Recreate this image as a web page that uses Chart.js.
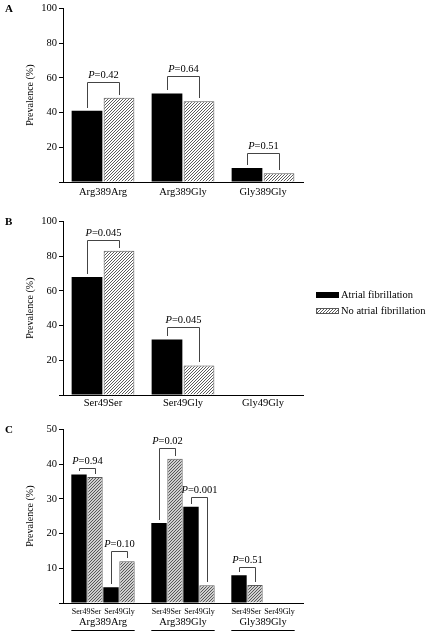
<!DOCTYPE html>
<html><head><meta charset="utf-8">
<script src="https://cdn.jsdelivr.net/npm/chart.js@4"></script>
<style>
html,body{margin:0;padding:0;background:#fff;width:430px;height:635px;overflow:hidden;}
.panel{position:absolute;left:0;width:430px;}
</style></head><body>
<div class="panel" style="top:0;height:213px"><canvas id="cA"></canvas></div>
<div class="panel" style="top:213px;height:208px"><canvas id="cB"></canvas></div>
<div class="panel" style="top:421px;height:214px"><canvas id="cC"></canvas></div>
<script>
// ---- Data ----
const seriesLabels = ['Atrial fibrillation', 'No atrial fibrillation'];
const axisTitle = 'Prevalence (%)';

// Panel A: Arg389Gly
const genotypes389 = ['Arg389Arg', 'Arg389Gly', 'Gly389Gly'];
const af389 = [41, 51, 8];
const noAf389 = [48.5, 46.5, 5];
const p389 = ['0.42', '0.64', '0.51'];
const bracket389 = [57.7, 61, 16.5];

// Panel B: Ser49Gly
const genotypes49 = ['Ser49Ser', 'Ser49Gly', 'Gly49Gly'];
const af49 = [68, 32, 0];
const noAf49 = [83, 17, 0];
const p49 = ['0.045', '0.045', null];
const bracket49 = [89.5, 39, null];

// Panel C: combined
const groups389 = ['Arg389Arg', 'Arg389Gly', 'Gly389Gly'];
const subgroups49 = ['Ser49Ser', 'Ser49Gly'];
const afSer49Ser = [37, 23, 8];
const noAfSer49Ser = [36.3, 41.5, 5.2];
const afSer49Gly = [4.5, 27.7, 0];
const noAfSer49Gly = [12, 5.1, 0];
const pSer49Ser = ['0.94', '0.02', '0.51'];
const bracketSer49Ser = [39, 44.5, 10.5];
const pSer49Gly = ['0.10', '0.001', null];
const bracketSer49Gly = [15, 30.5, null];

const yTicksAB = {max: 100, step: 20};
const yTicksC = {max: 50, step: 10};

// ---- Styling helpers ----
const FAM = "'Liberation Serif', 'Times New Roman', serif";
Chart.defaults.font.family = FAM;
Chart.defaults.font.size = 10.5;
Chart.defaults.color = '#000';

function makeHatch(size, color, lw, bg) {
  const c = document.createElement('canvas');
  c.width = c.height = size;
  const g = c.getContext('2d');
  g.fillStyle = bg; g.fillRect(0, 0, size, size);
  g.strokeStyle = color; g.lineWidth = lw;
  g.beginPath();
  g.moveTo(0, size); g.lineTo(size, 0);
  g.moveTo(-1, 1); g.lineTo(1, -1);
  g.moveTo(size - 1, size + 1); g.lineTo(size + 1, size - 1);
  g.stroke();
  return g.createPattern(c, 'repeat');
}
const hatchAB = makeHatch(3, '#4a4a4a', 0.9, '#ffffff');
const hatchC = makeHatch(3, '#4a4a4a', 0.9, '#cfcfcf');

function yScale(t) {
  return {
    min: 0, max: t.max,
    ticks: {stepSize: t.step, padding: 2, color: '#000', font: {size: 10.5},
      callback: v => v === 0 ? '' : v},
    grid: {display: true, drawOnChartArea: false, drawTicks: true, tickLength: 4, color: '#000', lineWidth: 1},
    border: {display: true, color: '#000', width: 1},
    title: {display: true, text: axisTitle, color: '#000', font: {size: 10}, padding: {top: 24, bottom: 0}},
    afterFit: s => { s.width = 63; }
  };
}
function xScale(pad, h) {
  return {
    offset: true,
    grid: {display: false, drawTicks: false},
    border: {display: true, color: '#000', width: 1},
    ticks: {padding: pad, color: '#000', font: {size: 10.5}, maxRotation: 0, autoSkip: false},
    afterFit: s => { s.height = h; }
  };
}

const bw = ctx => (ctx.raw > 0 ? 1 : 0);
function blackSet(label, data) {
  return {label, data, backgroundColor: '#000', borderColor: '#000', borderWidth: 0,
    categoryPercentage: 0.8, barPercentage: 0.96};
}
function hatchSet(label, data, pat) {
  return {label, data, backgroundColor: pat, borderColor: '#5a5a5a', borderWidth: bw,
    categoryPercentage: 0.8, barPercentage: 0.96};
}

// ---- Plugins ----
const bracketPlugin = {
  id: 'brackets',
  afterDatasetsDraw(chart, args, opts) {
    const {ctx} = chart; const y = chart.scales.y;
    (opts.items || []).forEach(it => {
      if (it.level == null) return;
      const ma = chart.getDatasetMeta(it.a).data[it.i];
      const mb = chart.getDatasetMeta(it.b).data[it.i];
      const yl = Math.round(y.getPixelForValue(it.level)) + 0.5;
      const xa = Math.round(ma.x) + 0.5, xb = Math.round(mb.x) + 0.5;
      ctx.save();
      ctx.strokeStyle = '#444'; ctx.lineWidth = 1;
      ctx.beginPath();
      ctx.moveTo(xa, Math.round(ma.y) - 3); ctx.lineTo(xa, yl);
      ctx.lineTo(xb, yl); ctx.lineTo(xb, Math.round(mb.y) - 3);
      ctx.stroke();
      const fi = 'italic 10.5px ' + FAM, fn = '10.5px ' + FAM;
      ctx.fillStyle = '#000'; ctx.textBaseline = 'alphabetic'; ctx.textAlign = 'left';
      ctx.font = fi; const w1 = ctx.measureText('P').width;
      ctx.font = fn; const w2 = ctx.measureText('=' + it.p).width;
      const x0 = (xa + xb) / 2 - (w1 + w2) / 2, ty = yl - 5;
      ctx.font = fi; ctx.fillText('P', x0, ty);
      ctx.font = fn; ctx.fillText('=' + it.p, x0 + w1, ty);
      ctx.restore();
    });
  }
};
const letterPlugin = {
  id: 'panelLetter',
  afterDraw(chart, args, opts) {
    if (!opts.text) return;
    const {ctx} = chart;
    ctx.save();
    ctx.font = 'bold 11px ' + FAM; ctx.fillStyle = '#000';
    ctx.textBaseline = 'middle'; ctx.textAlign = 'left';
    ctx.fillText(opts.text, 5, chart.chartArea.top + 0.5);
    ctx.restore();
  }
};
const customLegend = {
  id: 'customLegend',
  afterDraw(chart, args, opts) {
    if (!opts.show) return;
    const {ctx} = chart;
    ctx.save();
    ctx.font = '10.5px ' + FAM; ctx.textBaseline = 'middle'; ctx.textAlign = 'left';
    chart.data.datasets.forEach((ds, k) => {
      const cy = opts.y + k * opts.gap;
      ctx.fillStyle = ds.backgroundColor;
      ctx.fillRect(opts.x, cy - 3, 23, 6);
      if (k > 0) { ctx.strokeStyle = '#5a5a5a'; ctx.lineWidth = 1; ctx.strokeRect(opts.x + 0.5, cy - 2.5, 22, 5); }
      ctx.fillStyle = '#000';
      ctx.fillText(ds.label, opts.x + 25, cy + 0.5);
    });
    ctx.restore();
  }
};
const subLabelPlugin = {
  id: 'subLabels',
  afterDraw(chart, args, opts) {
    if (!opts.labels) return;
    const {ctx} = chart; const bottom = chart.chartArea.bottom;
    const m = [0, 1, 2, 3].map(d => chart.getDatasetMeta(d).data);
    ctx.save();
    ctx.font = '8px ' + FAM; ctx.fillStyle = '#000';
    ctx.textBaseline = 'middle'; ctx.textAlign = 'center';
    chart.data.labels.forEach((g, i) => {
      const c1 = (m[0][i].x + m[1][i].x) / 2, c2 = (m[2][i].x + m[3][i].x) / 2;
      ctx.fillText(opts.labels[0], c1 - 0.5, bottom + 8.5);
      ctx.fillText(opts.labels[1], c2 + 0.5, bottom + 8.5);
      const l = m[0][i].x - m[0][i].width / 2, r = m[3][i].x + m[3][i].width / 2;
      ctx.strokeStyle = '#000'; ctx.lineWidth = 1;
      ctx.beginPath(); ctx.moveTo(l, bottom + 27.5); ctx.lineTo(r, bottom + 27.5); ctx.stroke();
    });
    ctx.restore();
  }
};
Chart.register(bracketPlugin, letterPlugin, customLegend, subLabelPlugin);

function baseOptions(yT, xPad, xH, letter) {
  return {
    responsive: true, maintainAspectRatio: false, animation: false,
    layout: {padding: {top: 7, right: 127, left: 0, bottom: 0}},
    scales: {x: xScale(xPad, xH), y: yScale(yT)},
    plugins: {legend: {display: false}, tooltip: {enabled: false},
      panelLetter: {text: letter}}
  };
}

// Panel A
const optA = baseOptions(yTicksAB, 4.4, 31, 'A');
optA.plugins.brackets = {items: p389.map((p, i) => ({i, a: 0, b: 1, level: bracket389[i], p}))};
new Chart(document.getElementById('cA'), {
  type: 'bar',
  data: {labels: genotypes389, datasets: [blackSet(seriesLabels[0], af389), hatchSet(seriesLabels[1], noAf389, hatchAB)]},
  options: optA
});

// Panel B
const optB = baseOptions(yTicksAB, 1.7, 26, 'B');
optB.plugins.brackets = {items: p49.map((p, i) => ({i, a: 0, b: 1, level: bracket49[i], p}))};
optB.plugins.customLegend = {show: true, x: 316, y: 82, gap: 16};
new Chart(document.getElementById('cB'), {
  type: 'bar',
  data: {labels: genotypes49, datasets: [blackSet(seriesLabels[0], af49), hatchSet(seriesLabels[1], noAf49, hatchAB)]},
  options: optB
});

// Panel C
const optC = baseOptions(yTicksC, 12.7, 32, 'C');
optC.plugins.brackets = {items: [
  ...pSer49Ser.map((p, i) => ({i, a: 0, b: 1, level: bracketSer49Ser[i], p})),
  ...pSer49Gly.map((p, i) => ({i, a: 2, b: 3, level: bracketSer49Gly[i], p}))
]};
optC.plugins.subLabels = {labels: subgroups49};
new Chart(document.getElementById('cC'), {
  type: 'bar',
  data: {labels: groups389, datasets: [
    blackSet(subgroups49[0] + ' ' + seriesLabels[0], afSer49Ser),
    hatchSet(subgroups49[0] + ' ' + seriesLabels[1], noAfSer49Ser, hatchC),
    blackSet(subgroups49[1] + ' ' + seriesLabels[0], afSer49Gly),
    hatchSet(subgroups49[1] + ' ' + seriesLabels[1], noAfSer49Gly, hatchC)
  ]},
  options: optC
});
</script>
</body></html>
